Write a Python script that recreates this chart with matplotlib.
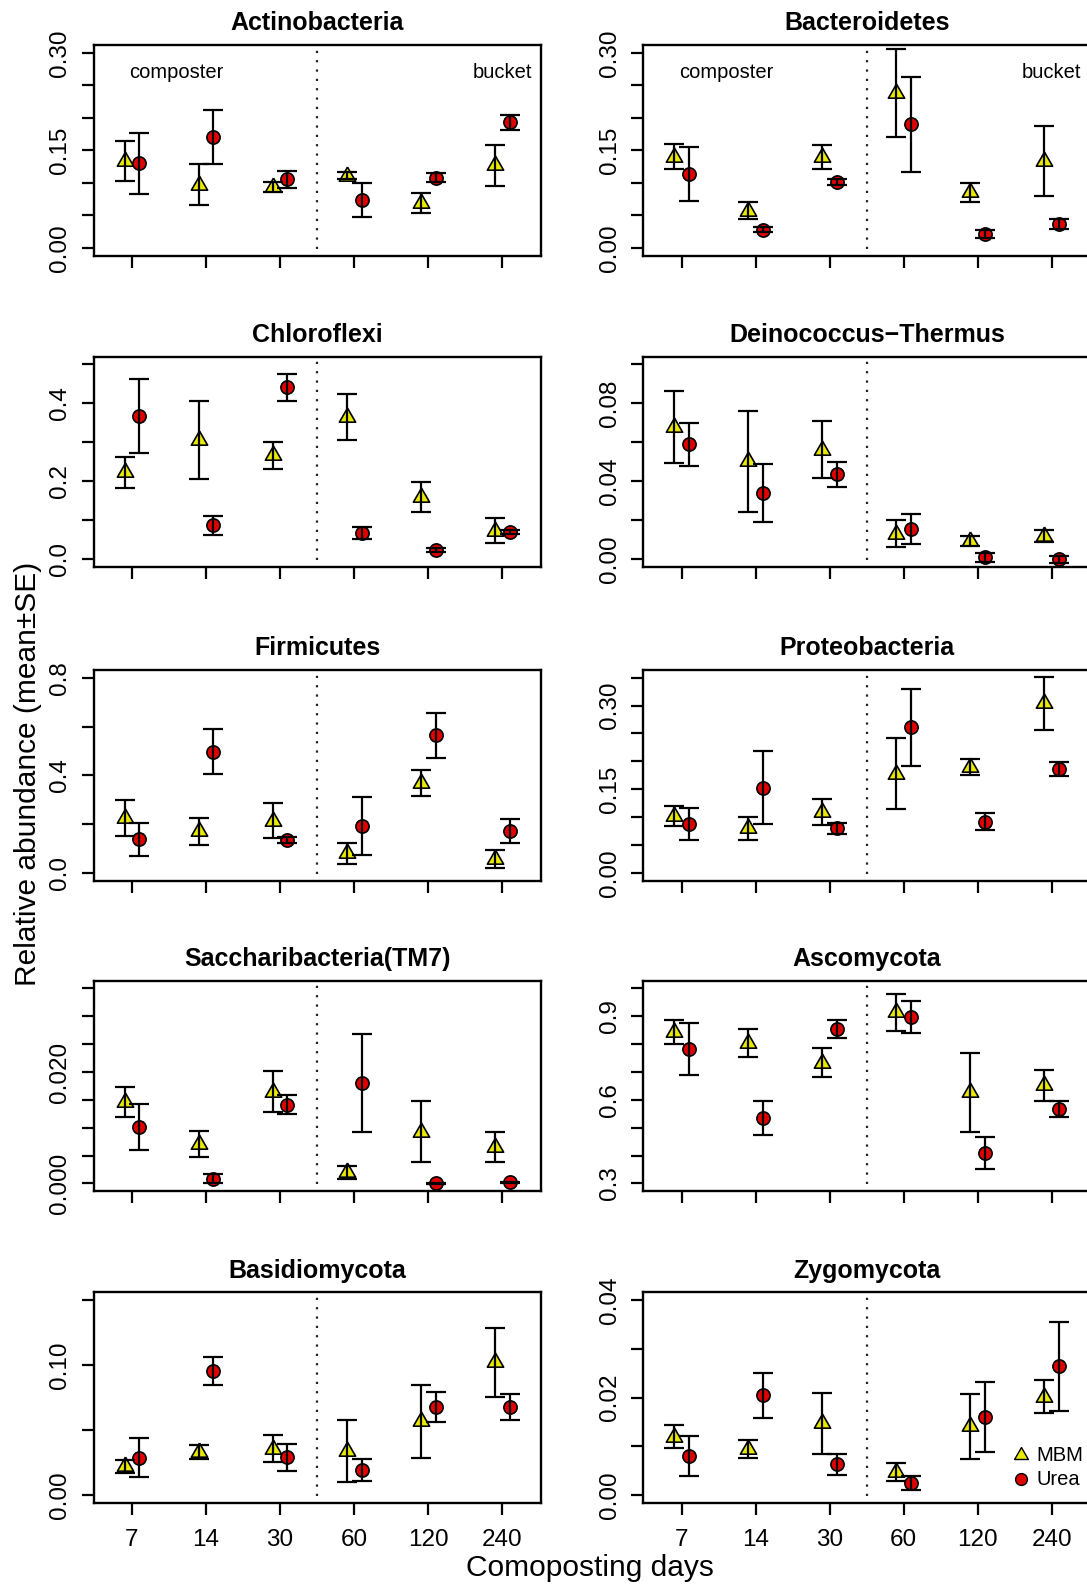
"""
Relative abundance of phyla during composting (MBM vs Urea)
"""

import numpy as np
import matplotlib
matplotlib.use('Agg')  # no display
import matplotlib.pyplot as plt

plt.rcParams['font.family'] = ['Liberation Sans', 'DejaVu Sans']

# ---- data ----
days = ['7', '14', '30', '60', '120', '240']
phyla = ['Actinobacteria', 'Bacteroidetes', 'Chloroflexi', 'Deinococcus\u2212Thermus',
         'Firmicutes', 'Proteobacteria', 'Saccharibacteria(TM7)', 'Ascomycota',
         'Basidiomycota', 'Zygomycota']

mbm_mean = [
    [0.134, 0.097, 0.094, 0.111, 0.069, 0.127],
    [0.140, 0.057, 0.139, 0.238, 0.085, 0.133],
    [0.223, 0.306, 0.267, 0.366, 0.160, 0.073],
    [0.068, 0.0503, 0.0563, 0.0131, 0.0095, 0.0121],
    [0.226, 0.170, 0.214, 0.079, 0.367, 0.057],
    [0.101, 0.080, 0.109, 0.178, 0.190, 0.304],
    [0.0146, 0.0071, 0.0165, 0.0020, 0.0093, 0.0065],
    [0.844, 0.804, 0.733, 0.914, 0.627, 0.652],
    [0.022, 0.033, 0.0355, 0.034, 0.0567, 0.102],
    [0.0120, 0.0094, 0.0147, 0.0047, 0.0141, 0.0202],
]
mbm_se = [
    [0.031, 0.032, 0.0075, 0.005, 0.015, 0.0315],
    [0.019, 0.013, 0.0185, 0.068, 0.014, 0.054],
    [0.0396, 0.1006, 0.0344, 0.0594, 0.0374, 0.032],
    [0.0185, 0.0259, 0.0145, 0.0069, 0.0026, 0.003],
    [0.0734, 0.0563, 0.0727, 0.044, 0.0535, 0.037],
    [0.018, 0.0206, 0.0236, 0.0637, 0.0137, 0.047],
    [0.0027, 0.0024, 0.0036, 0.0012, 0.0055, 0.0027],
    [0.0444, 0.0516, 0.0516, 0.0672, 0.141, 0.0564],
    [0.0049, 0.0055, 0.0103, 0.024, 0.0282, 0.0263],
    [0.0024, 0.00185, 0.0062, 0.0019, 0.0067, 0.0034],
]
urea_mean = [
    [0.130, 0.171, 0.105, 0.074, 0.108, 0.193],
    [0.113, 0.028, 0.101, 0.190, 0.0215, 0.036],
    [0.368, 0.088, 0.441, 0.067, 0.024, 0.070],
    [0.0591, 0.0341, 0.0436, 0.0155, 0.001, 0.0],
    [0.137, 0.497, 0.1345, 0.191, 0.564, 0.171],
    [0.088, 0.153, 0.0795, 0.261, 0.0915, 0.186],
    [0.0101, 0.0008, 0.0141, 0.0181, 0.0, 0.0002],
    [0.782, 0.535, 0.854, 0.898, 0.409, 0.567],
    [0.0287, 0.0953, 0.029, 0.0192, 0.0679, 0.0679],
    [0.0080, 0.0205, 0.0063, 0.0025, 0.0160, 0.0264],
]
urea_se = [
    [0.047, 0.0415, 0.0125, 0.026, 0.007, 0.012],
    [0.0415, 0.0045, 0.005, 0.073, 0.0064, 0.0077],
    [0.0955, 0.0245, 0.0353, 0.015, 0.0043, 0.005],
    [0.0111, 0.0149, 0.0063, 0.0077, 0.0025, 0.0016],
    [0.0666, 0.0926, 0.0137, 0.12, 0.0919, 0.0487],
    [0.0287, 0.0652, 0.0105, 0.0687, 0.0152, 0.0131],
    [0.0041, 0.0008, 0.0017, 0.0088, 0.0001, 0.0001],
    [0.0936, 0.0612, 0.0324, 0.0576, 0.0576, 0.03],
    [0.015, 0.011, 0.0103, 0.0083, 0.0117, 0.01],
    [0.0041, 0.0046, 0.0022, 0.0014, 0.0072, 0.0091],
]

ylims = [(0, 0.30), (0, 0.30), (0, 0.5), (0, 0.10), (0, 0.8),
         (0, 0.35), (0, 0.035), (0.3, 1.0), (0, 0.15), (0, 0.04)]
yticks = [
    [0, 0.05, 0.10, 0.15, 0.20, 0.25, 0.30],
    [0, 0.05, 0.10, 0.15, 0.20, 0.25, 0.30],
    [0, 0.1, 0.2, 0.3, 0.4, 0.5],
    [0, 0.02, 0.04, 0.06, 0.08, 0.10],
    [0, 0.2, 0.4, 0.6, 0.8],
    [0, 0.05, 0.10, 0.15, 0.20, 0.25, 0.30, 0.35],
    [0, 0.005, 0.010, 0.015, 0.020, 0.025, 0.030, 0.035],
    [0.3, 0.4, 0.5, 0.6, 0.7, 0.8, 0.9, 1.0],
    [0, 0.05, 0.10, 0.15],
    [0, 0.01, 0.02, 0.03, 0.04],
]
ytick_labels = [
    ['0.00', '', '', '0.15', '', '', '0.30'],
    ['0.00', '', '', '0.15', '', '', '0.30'],
    ['0.0', '', '0.2', '', '0.4', ''],
    ['0.00', '', '0.04', '', '0.08', ''],
    ['0.0', '', '0.4', '', '0.8'],
    ['0.00', '', '', '0.15', '', '', '0.30', ''],
    ['0.000', '', '', '', '0.020', '', '', ''],
    ['0.3', '', '', '0.6', '', '', '0.9', ''],
    ['0.00', '', '0.10', ''],
    ['0.00', '', '0.02', '', '0.04'],
]
group_labels = ['composter', 'bucket']
legend_labels = ['MBM', 'Urea']

# ---- style ----
col_mbm = '#eaea00'
col_urea = '#e00000'
tri = [(0, 1), (0.866, -0.5), (-0.866, -0.5), (0, 1)]  # R style triangle (pch 24)

W, H = 1087, 1584
fig = plt.figure(figsize=(W / 100, H / 100), dpi=100)

col_left = [93.8, 643.4]
col_width = 447.0
row_top = [45, 356.7, 670, 980.7, 1292.3]
box_h = 210.5

x = np.arange(1, len(days) + 1)
lw = 1.6

for i, name in enumerate(phyla):
    r, c = divmod(i, 2)
    ax = fig.add_axes([col_left[c] / W, 1 - (row_top[r] + box_h) / H,
                       col_width / W, box_h / H])

    lo, hi = ylims[i]
    pad = 0.04 * (hi - lo)
    ax.set_ylim(lo - pad, hi + pad)
    ax.set_xlim(0.485, 6.52)

    # composter / bucket divider
    ax.plot([3.5, 3.5], [lo - 0.005 * (hi - lo), hi + 0.02 * (hi - lo)],
            color='#222222', lw=1.6, dashes=(1.0, 3.2), zorder=1)

    ax.plot(x - 0.1, mbm_mean[i], ls='none', marker=tri, ms=13.5,
            mfc=col_mbm, mec='black', mew=1.2, zorder=2, clip_on=False)
    ax.plot(x + 0.1, urea_mean[i], ls='none', marker='o', ms=9.5,
            mfc=col_urea, mec='black', mew=1.2, zorder=2, clip_on=False)
    ax.errorbar(x - 0.1, mbm_mean[i], yerr=mbm_se[i], fmt='none', ecolor='black',
                elinewidth=lw, capsize=7, capthick=lw, zorder=3, clip_on=False)
    ax.errorbar(x + 0.1, urea_mean[i], yerr=urea_se[i], fmt='none', ecolor='black',
                elinewidth=lw, capsize=7, capthick=lw, zorder=3, clip_on=False)

    ax.set_title(name, fontsize=18, fontweight='bold', pad=10.5)

    ax.set_yticks(yticks[i])
    ax.set_yticklabels(ytick_labels[i])
    ax.set_xticks(x)
    if r == 4:
        ax.set_xticklabels(days)
    else:
        ax.set_xticklabels([])

    ax.tick_params(axis='both', direction='out', length=8.6, width=lw,
                   labelsize=17.5, colors='black')
    ax.tick_params(axis='y', pad=7.5, labelrotation=90)
    ax.tick_params(axis='x', pad=10)
    for lab in ax.get_yticklabels():
        lab.set_va('center')
    for sp in ax.spines.values():
        sp.set_linewidth(1.7)

    if i < 2:
        ax.text(1.6, 0.27, group_labels[0], ha='center', va='center', fontsize=14.5)
        ax.text(6.0, 0.27, group_labels[1], ha='center', va='center', fontsize=14.5)

    if i == len(phyla) - 1:
        # legend without frame, bottom right
        ax.plot([0.844], [0.227], transform=ax.transAxes, marker=tri, ms=11.5,
                mfc=col_mbm, mec='black', mew=1.0, ls='none', clip_on=False)
        ax.plot([0.844], [0.111], transform=ax.transAxes, marker='o', ms=8.5,
                mfc=col_urea, mec='black', mew=1.0, ls='none', clip_on=False)
        ax.text(0.880, 0.227, legend_labels[0], transform=ax.transAxes,
                ha='left', va='center', fontsize=14.5)
        ax.text(0.880, 0.111, legend_labels[1], transform=ax.transAxes,
                ha='left', va='center', fontsize=14.5)

fig.text(28.5 / W, 1 - 774 / H, 'Relative abundance (mean\u00b1SE)', rotation=90,
         ha='center', va='center', fontsize=21.5)
fig.text(590 / W, 1 - 1576 / H, 'Comoposting days', ha='center', va='baseline',
         fontsize=21.5)

fig.savefig('out.png', dpi=100)
plt.close(fig)
